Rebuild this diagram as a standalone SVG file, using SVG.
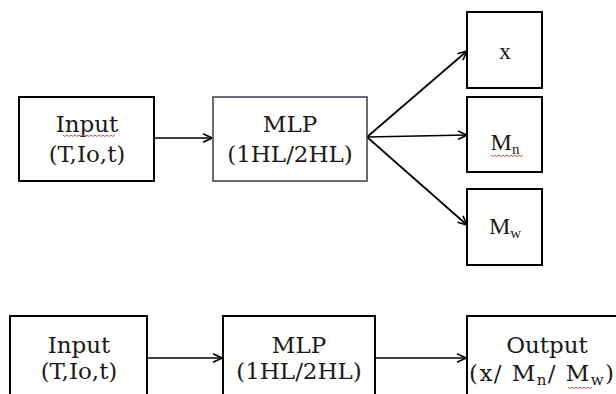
<svg xmlns="http://www.w3.org/2000/svg" width="616" height="394" viewBox="0 0 616 394">
<style>
.box{fill:#fff;stroke:#000;stroke-width:2}
.box2{fill:#fff;stroke:#3a3a4e;stroke-width:1.5}
.t{font-family:"DejaVu Serif","Liberation Serif",serif;font-size:23px;fill:#1a1a1a;text-anchor:middle}
.s{font-family:"Liberation Serif","DejaVu Serif",serif;font-size:24px;fill:#1a1a1a;text-anchor:middle}
.sub{font-size:15px}
.c{stroke:#000;stroke-width:1.7;fill:none}
.sq{stroke:#d04040;stroke-width:0.9;fill:none}
</style>
<defs>
<marker id="ah" viewBox="0 0 10 10" refX="10" refY="5" markerWidth="10" markerHeight="10" markerUnits="userSpaceOnUse" orient="auto">
<path d="M1,0.8 L10,5 L1,9.2" fill="none" stroke="#000" stroke-width="1.6"/>
</marker>
</defs>
<g id="connectors">
<line class="c" x1="155" y1="138" x2="212" y2="138" marker-end="url(#ah)"/>
<line class="c" x1="367" y1="137" x2="467" y2="51" marker-end="url(#ah)"/>
<line class="c" x1="367" y1="137" x2="467" y2="135" marker-end="url(#ah)"/>
<line class="c" x1="367" y1="137" x2="467" y2="225" marker-end="url(#ah)"/>
<line class="c" x1="147" y1="358" x2="222" y2="358" marker-end="url(#ah)"/>
<line class="c" x1="376" y1="358" x2="466" y2="358" marker-end="url(#ah)"/>
</g>
<g id="input1">
<rect class="box" x="19" y="97" width="135" height="84"/>
<text class="t" x="87" y="132">Input</text>
<text class="t" x="87" y="162">(T,Io,t)</text>
<path class="sq" d="M63,135 l2,1.5 l2,-1.5 l2,1.5 l2,-1.5 l2,1.5 l2,-1.5 l2,1.5 l2,-1.5 l2,1.5 l2,-1.5 l2,1.5 l2,-1.5 l2,1.5 l2,-1.5 l2,1.5 l2,-1.5 l2,1.5 l2,-1.5 l2,1.5 l2,-1.5 l2,1.5 l2,-1.5 l2,1.5 l2,-1.5 l2,1.5 l2,-1.5"/>
</g>
<g id="mlp1">
<rect class="box2" x="213" y="97" width="154" height="84"/>
<text class="t" x="290" y="132">MLP</text>
<text class="t" x="290" y="162">(1HL/2HL)</text>
</g>
<g id="out-x">
<rect class="box" x="467" y="12" width="75" height="76"/>
<text class="s" x="505" y="59">x</text>
</g>
<g id="out-mn">
<rect class="box" x="467" y="97" width="75" height="75"/>
<text class="s" x="505" y="150">M<tspan class="sub" dy="4">n</tspan></text>
<path class="sq" d="M491,155 l2,1.5 l2,-1.5 l2,1.5 l2,-1.5 l2,1.5 l2,-1.5 l2,1.5 l2,-1.5 l2,1.5 l2,-1.5 l2,1.5 l2,-1.5 l2,1.5 l2,-1.5 l2,1.5 l2,-1.5"/>
</g>
<g id="out-mw">
<rect class="box" x="467" y="189" width="75" height="76"/>
<text class="s" x="505" y="234">M<tspan class="sub" dy="4">w</tspan></text>
</g>
<g id="input2">
<rect class="box" x="10" y="316" width="137" height="84"/>
<text class="t" x="79" y="353">Input</text>
<text class="t" x="79" y="379">(T,Io,t)</text>
</g>
<g id="mlp2">
<rect class="box" x="223" y="316" width="152" height="84"/>
<text class="t" x="299" y="353">MLP</text>
<text class="t" x="299" y="379">(1HL/2HL)</text>
</g>
<g id="output2">
<rect class="box" x="467" y="316" width="160" height="84"/>
<text class="t" x="547" y="353">Output</text>
<text class="t" x="469" y="381" style="text-anchor:start" textLength="145" lengthAdjust="spacing">(x/ M<tspan class="sub" dy="4">n</tspan><tspan dy="-4">/ M</tspan><tspan class="sub" dy="4">w</tspan><tspan dy="-4">)</tspan></text>
<path class="sq" d="M568,387 l2,1.5 l2,-1.5 l2,1.5 l2,-1.5 l2,1.5 l2,-1.5 l2,1.5 l2,-1.5 l2,1.5 l2,-1.5 l2,1.5 l2,-1.5"/>
</g>
</svg>
